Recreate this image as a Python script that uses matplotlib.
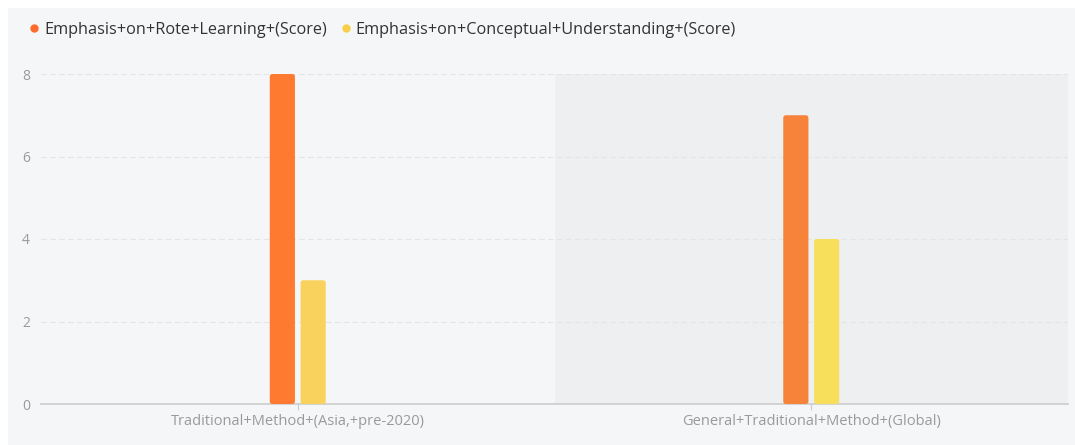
import matplotlib.pyplot as plt
from matplotlib.patches import FancyBboxPatch, Rectangle
from matplotlib.lines import Line2D
import numpy as np

plt.rcParams['font.family'] = ['Open Sans', 'DejaVu Sans']

categories = ["Traditional+Method+(Asia,+pre-2020)", "General+Traditional+Method+(Global)"]
series_names = ["Emphasis+on+Rote+Learning+(Score)", "Emphasis+on+Conceptual+Understanding+(Score)"]
rote = [8, 7]
conceptual = [3, 4]
rote_colors = ["#fe7a30", "#f7823a"]
conceptual_colors = ["#f8d25c", "#f7df5c"]

fig = plt.figure(figsize=(10.75, 4.45), dpi=100, facecolor="white")
fig.patches.append(Rectangle((8 / 1075, 0), 1, 437 / 445, transform=fig.transFigure,
                             facecolor="#f5f6f8", edgecolor="none", zorder=-5))

ax = fig.add_axes([41 / 1075, 41 / 445, 1027 / 1075, 330 / 445])
ax.set_facecolor("none")

x = np.arange(len(categories))
w = 0.049
off = 0.03

# highlight band behind the second category
ax.axvspan(0.5, 1.5, color="#eeeff1", zorder=0, lw=0)

bars1 = ax.bar(x - off, rote, w, color=rote_colors, zorder=3)
bars2 = ax.bar(x + off, conceptual, w, color=conceptual_colors, zorder=3)

# swap the plain rectangles for slightly rounded ones
for bars in (bars1, bars2):
    for b in bars:
        p = FancyBboxPatch((b.get_x(), b.get_y()), b.get_width(), b.get_height(),
                           boxstyle="round,pad=0,rounding_size=0.005",
                           mutation_aspect=12.4, facecolor=b.get_facecolor(),
                           edgecolor="none", zorder=3)
        b.set_visible(False)
        ax.add_patch(p)

ax.set_xlim(-0.5, 1.5)
ax.set_ylim(0, 8)
ax.set_yticks([0, 2, 4, 6, 8])
ax.set_xticks(x)
ax.set_xticklabels(categories)

for yv in [2, 4, 6, 8]:
    ax.axhline(yv, color="#e3e4e6", lw=0.8, ls=(0, (5, 3)), zorder=1)

for s in ["top", "right", "left"]:
    ax.spines[s].set_visible(False)
ax.spines["bottom"].set_color("#cccccc")
ax.spines["bottom"].set_linewidth(1.2)

ax.tick_params(axis="y", length=0, pad=8, labelsize=10, labelcolor="#9a9a9a")
ax.tick_params(axis="x", length=4, color="#cccccc", pad=3, labelsize=10.5, labelcolor="#9a9a9a")

handles = [Line2D([], [], marker="o", ls="none", markersize=5, color=c)
           for c in ["#fe6a2c", "#f8cf48"]]
fig.legend(handles, series_names, loc="upper left", bbox_to_anchor=(10 / 1075, 1 - 7 / 445),
           ncol=2, frameon=False, fontsize=11.7, handletextpad=0.0, columnspacing=0.55,
           handlelength=1.2, labelcolor="#333333")

fig.savefig("out.png", dpi=100, facecolor="white")
